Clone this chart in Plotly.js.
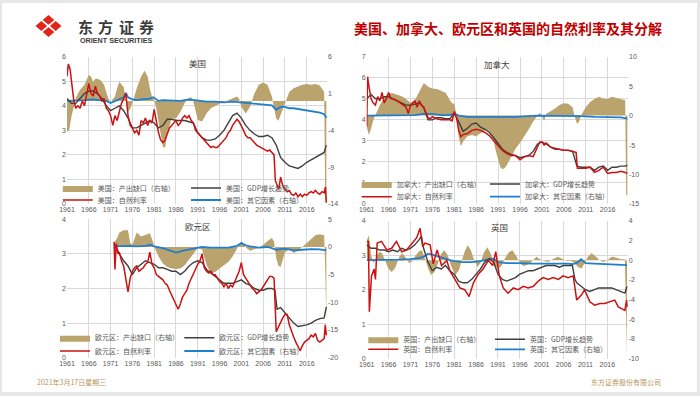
<!DOCTYPE html>
<html><head><meta charset="utf-8">
<script src="https://cdn.plot.ly/plotly-3.0.1.min.js"></script>
<style>html,body{margin:0;padding:0;background:#e7e7e7;}#chart{width:700px;height:396px;}</style>
</head><body><div id="chart"></div>
<script>
// ---------------- DATA ----------------
const xTicks = [1961,1966,1971,1976,1981,1986,1991,1996,2001,2006,2011,2016];

// United States
const usGapYr = [1961,1961.5,1962,1962.5,1963,1963.5,1964,1965,1966,1966.5,1967,1967.5,1968,1968.7,1969.5,1970,1970.5,1971,1972,1972.5,1973,1974,1974.5,1975,1975.5,1976,1977,1978,1978.8,1979.5,1980,1980.5,1981,1981.5,1982,1982.5,1983,1983.5,1984,1985,1986,1987,1988,1989,1989.5,1990,1990.5,1991,1992,1993,1994,1995,1996,1997,1998,1999,2000,2000.5,2001,2002,2003,2004,2005,2006,2007,2008,2008.5,2009,2009.5,2010,2011,2012,2013,2014,2015,2016,2017,2018,2019,2020,2020.25,2020.5];
const usGap = [-4.2,-4.0,-2.2,-0.8,0.3,1.0,1.5,2.2,3.5,3.3,2.6,3.0,3.0,2.8,2.2,1.2,0.3,-0.1,0.6,1.7,2.6,1.9,0.1,-1.5,-1.1,-0.3,1.7,3.3,4.1,3.3,1.7,0.6,0.1,-1.0,-2.8,-4.6,-6.2,-6.4,-4.4,-2.4,-2.4,-1.5,-0.3,0.4,0.5,-0.1,-1.5,-2.6,-2.8,-1.7,-1.0,-0.7,-0.3,-0.1,0.1,0.3,0.6,0.3,-0.8,-1.7,-0.8,1.0,2.2,2.5,2.2,0.6,-0.8,-2.4,-2.7,-1.9,-0.3,1.2,1.7,2.0,2.2,2.3,2.2,2.3,2.1,1.2,-13.8,-13.0];
const usOthYr = [1961,1963,1965,1967,1969,1970,1971,1972,1973,1974,1974.5,1975,1976,1977,1978,1979,1980,1980.8,1981.5,1982,1983,1985,1987,1989,1991,1993,1995,1997,1999,2001,2003,2005,2007,2008,2009,2010,2011,2012,2013,2014,2015,2016,2017,2018,2019,2020,2020.5];
const usOth = [0.0,0.0,0.1,0.2,0.1,0.0,-0.3,0.0,0.3,0.5,1.1,0.5,0.2,0.1,0.2,0.3,0.3,0.5,0.2,0.0,0.1,0.1,0.0,0.2,0.0,-0.1,-0.1,-0.2,-0.1,-0.2,-0.3,-0.4,-0.5,-0.6,-1.2,-0.8,-0.8,-1.0,-1.0,-1.1,-1.2,-1.3,-1.4,-1.5,-1.6,-1.8,-2.3];
const usGdpYr = [1961,1962,1963,1964,1965,1966,1967,1968,1969,1970,1971,1972,1973,1974,1975,1976,1977,1978,1979,1980,1981,1982,1983,1984,1985,1986,1987,1988,1989,1990,1991,1992,1993,1994,1995,1996,1997,1998,1999,2000,2001,2002,2003,2004,2005,2006,2007,2008,2009,2010,2011,2012,2013,2014,2015,2016,2017,2018,2019,2020,2020.5];
const usGdp = [4.3,4.1,4.1,4.3,4.5,4.6,4.6,4.5,4.3,4.0,3.8,3.9,4.0,3.8,3.5,3.1,3.1,3.2,3.3,3.4,3.3,3.1,3.2,3.45,3.45,3.4,3.4,3.4,3.35,3.3,2.9,2.7,2.6,2.6,2.65,2.8,3.0,3.3,3.6,3.7,3.5,3.2,3.0,2.85,2.75,2.75,2.8,2.7,2.4,1.9,1.7,1.55,1.5,1.45,1.55,1.7,1.8,1.9,2.0,2.1,2.4];
const usRateYr = [1961,1961.3,1961.7,1962,1962.5,1963,1963.5,1964,1964.5,1965,1965.5,1966,1966.5,1967,1967.5,1968,1968.5,1969,1969.5,1970,1970.5,1971,1971.5,1972,1972.5,1973,1973.5,1974,1974.5,1975,1975.5,1976,1976.5,1977,1977.5,1978,1978.5,1979,1979.5,1980,1980.5,1981,1981.5,1982,1982.5,1983,1983.5,1984,1984.5,1985,1985.5,1986,1986.5,1987,1987.5,1988,1988.5,1989,1989.5,1990,1990.5,1991,1991.5,1992,1992.5,1993,1993.5,1994,1994.5,1995,1995.5,1996,1996.5,1997,1997.5,1998,1998.5,1999,1999.5,2000,2000.5,2001,2001.5,2002,2002.5,2003,2003.5,2004,2004.5,2005,2005.5,2006,2006.5,2007,2007.5,2008,2008.5,2008.8,2009.2,2009.6,2010,2010.5,2011,2011.5,2012,2012.5,2013,2013.5,2014,2014.5,2015,2015.5,2016,2016.5,2017,2017.5,2018,2018.5,2019,2019.5,2020,2020.3,2020.5];
const usRate = [5.2,5.7,5.5,5.0,4.3,3.9,4.0,3.9,4.2,4.0,4.4,4.9,4.5,4.4,4.8,4.5,4.4,4.2,4.3,3.9,3.8,3.6,3.2,3.6,3.4,3.8,4.1,4.3,4.5,3.6,3.2,3.1,2.9,3.0,2.8,3.4,3.3,3.5,3.2,3.4,3.3,3.85,3.3,2.9,2.6,2.5,2.6,2.9,3.1,3.2,3.3,3.4,3.2,3.3,3.5,3.6,3.5,3.6,3.4,3.3,3.0,2.9,2.8,2.7,2.6,2.5,2.4,2.3,2.35,2.3,2.3,2.4,2.5,2.6,2.7,2.9,3.0,3.2,3.35,3.45,3.35,3.2,3.0,2.8,2.7,2.7,2.6,2.5,2.4,2.35,2.3,2.25,2.2,2.15,2.2,2.1,2.0,0.95,0.8,0.6,1.1,0.75,0.6,0.5,0.55,0.4,0.35,0.45,0.3,0.4,0.3,0.4,0.35,0.45,0.5,0.45,0.55,0.45,0.4,0.5,0.45,0.7,0.05];

// Canada
const caGapYr = [1961,1961.5,1962,1962.5,1963,1964,1965,1966,1967,1968,1969,1970,1971,1972,1973,1973.5,1974,1974.5,1975,1976,1977,1978,1979,1980,1980.5,1981,1981.5,1982,1982.5,1983,1984,1985,1986,1987,1988,1989,1990,1990.5,1991,1991.5,1992,1992.5,1993,1994,1995,1996,1997,1998,1999,2000,2000.5,2001,2001.5,2002,2003,2004,2005,2006,2007,2008,2008.5,2009,2009.5,2010,2011,2012,2013,2014,2015,2016,2017,2018,2019,2020,2020.25,2020.5];
const caGap = [-1.9,-3.3,-2.2,-0.8,0.1,1.8,3.1,3.8,3.8,3.5,3.3,2.8,2.2,2.6,4.1,5.0,5.5,5.3,4.9,4.6,4.5,4.2,3.9,2.6,2.1,2.0,0.1,-3.6,-5.2,-4.4,-3.5,-3.3,-3.5,-3.0,-2.5,-2.7,-4.4,-6.1,-7.5,-8.7,-9.1,-8.9,-8.4,-7.0,-5.6,-4.6,-3.5,-2.3,-1.0,0.1,0.5,-0.1,-0.9,0.3,0.7,1.2,1.8,2.1,2.0,1.4,-0.2,-1.4,-1.0,0.1,1.4,2.3,2.8,3.2,2.9,2.8,3.2,3.0,2.9,2.6,-13.5,-13.5];
const caOthYr = [1961,1965,1970,1972,1974,1976,1978,1980,1981,1982,1984,1986,1990,1995,2000,2005,2008,2010,2013,2016,2019,2020.5];
const caOth = [0.0,0.05,0.0,0.1,0.3,0.3,0.1,0.1,0.35,0.0,-0.2,-0.2,-0.3,-0.2,0.0,0.0,0.0,-0.1,-0.2,-0.3,-0.3,-0.5];
const caGdpYr = [1961,1962,1963,1964,1965,1966,1967,1968,1969,1970,1971,1972,1973,1974,1975,1976,1977,1978,1979,1980,1981,1982,1983,1984,1985,1986,1987,1988,1989,1990,1991,1992,1993,1994,1995,1996,1997,1998,1999,2000,2001,2002,2003,2004,2005,2006,2007,2008,2009,2010,2011,2012,2013,2014,2015,2016,2017,2018,2019,2020,2020.5];
const caGdp = [5.0,5.2,5.0,5.0,5.1,5.1,5.0,4.9,4.8,4.7,4.7,4.75,4.8,4.6,4.0,4.0,4.1,4.1,4.05,4.05,4.3,3.9,3.45,3.6,3.8,3.85,3.65,3.55,3.4,3.15,2.9,2.6,2.45,2.35,2.3,2.2,2.25,2.3,2.5,2.85,2.95,2.85,2.7,2.65,2.6,2.55,2.55,2.5,1.8,1.75,1.75,1.75,1.6,1.75,1.8,1.6,1.75,1.75,1.8,1.8,1.85];
const caRateYr = [1961,1961.2,1961.5,1962,1962.5,1963,1963.5,1964,1964.5,1965,1965.5,1966,1966.5,1967,1968,1969,1970,1970.5,1971,1972,1972.5,1973,1973.5,1974,1975,1975.5,1976,1977,1978,1979,1980,1980.5,1981,1981.5,1982,1982.5,1983,1984,1985,1986,1987,1988,1989,1990,1991,1992,1993,1994,1995,1996,1997,1998,1999,2000,2000.5,2001,2001.5,2002,2003,2004,2005,2006,2007,2008,2008.8,2009.1,2010,2011,2012,2013,2014,2015,2016,2017,2018,2019,2020,2020.5];
const caRate = [3.7,6.05,5.6,5.0,4.8,4.7,5.1,4.9,5.3,4.8,5.0,5.3,5.0,5.0,4.9,4.75,4.6,4.3,4.7,4.9,4.6,4.9,4.7,4.6,4.1,4.05,4.15,4.05,4.0,4.0,4.0,3.95,4.4,4.1,3.5,3.2,3.3,3.35,3.5,3.55,3.5,3.4,3.25,3.0,2.75,2.55,2.4,2.3,2.3,2.1,2.25,2.3,2.25,2.75,2.95,2.95,2.8,2.9,2.7,2.6,2.6,2.55,2.55,2.5,2.45,1.7,1.7,1.7,1.75,1.5,1.6,1.75,1.45,1.5,1.5,1.55,1.5,1.45];

// Euro area
const euGapYr = [1971.8,1972.5,1973,1974,1975,1975.5,1976,1977,1978,1979,1980,1980.7,1981.3,1982,1983,1984,1985,1986,1987,1988,1989,1990,1991,1992,1993,1994,1995,1996,1997,1998,1999,2000,2001,2002,2003,2004,2005,2006,2007,2008,2008.5,2009,2009.5,2010,2010.5,2011,2012,2013,2014,2015,2016,2017,2018,2019,2020,2020.25,2020.5];
const euGap = [0.7,1.6,2.6,3.0,3.0,0.7,0.4,2.6,1.9,2.2,2.5,1.0,-0.5,-1.7,-3.0,-3.6,-3.9,-4.0,-3.9,-3.3,-2.3,-1.4,-0.2,-0.5,-3.2,-4.8,-4.5,-3.9,-3.3,-2.7,-1.7,-0.4,1.1,-0.1,-0.7,-0.4,-0.2,0.4,1.1,1.6,1.0,-2.0,-3.4,-3.6,-2.3,-1.0,-0.4,-1.1,-0.7,0.0,0.8,1.5,2.1,2.3,2.1,-4.3,-13.5];
const euOthYr = [1971.8,1975,1977,1979,1980,1981,1983,1985,1986,1988,1990,1992,1994,1996,1998,2000,2001,2002,2003,2005,2007,2008,2009,2011,2013,2015,2017,2019,2020.5];
const euOth = [0.1,0.2,0.1,0.2,0.4,0.1,-0.2,-0.7,-1.0,-0.6,-0.3,0.0,-0.1,-0.1,-0.1,0.2,0.7,0.3,0.1,-0.1,0.0,-0.2,-0.5,-0.3,-0.6,-0.5,-0.4,-0.45,-0.6];
const euGdpYr = [1971.8,1972.5,1973,1974,1975,1976,1977,1978,1979,1980,1981,1982,1983,1984,1985,1986,1987,1988,1989,1990,1991,1992,1993,1994,1995,1996,1997,1998,1999,2000,2001,2002,2003,2004,2005,2006,2007,2008,2008.7,2009.2,2010,2011,2012,2013,2014,2015,2016,2017,2018,2019,2020,2020.5];
const euGdp = [3.3,3.1,3.0,2.8,2.65,2.4,2.6,2.7,2.8,2.75,2.7,2.6,2.6,2.55,2.5,2.5,2.4,2.5,2.65,2.75,2.8,2.75,2.55,2.45,2.35,2.25,2.15,2.15,2.15,2.2,2.25,2.15,2.1,2.0,1.95,1.95,2.0,2.0,1.95,1.4,1.45,1.3,1.15,1.0,0.9,0.92,0.95,1.0,1.08,1.13,1.15,1.47];
const euRateYr = [1971.8,1972,1972.3,1972.7,1973,1973.5,1974,1974.5,1975,1975.5,1976,1976.5,1977,1977.5,1978,1978.5,1979,1979.5,1980,1980.5,1981,1981.5,1982,1982.5,1983,1983.5,1984,1984.5,1985,1985.5,1986,1986.5,1987,1987.5,1988,1988.5,1989,1989.5,1990,1990.5,1991,1991.5,1992,1992.5,1993,1993.5,1994,1994.5,1995,1995.5,1996,1996.5,1997,1997.5,1998,1998.5,1999,1999.5,2000,2000.5,2001,2001.5,2002,2002.5,2003,2003.5,2004,2004.5,2005,2005.5,2006,2006.5,2007,2007.5,2008,2008.5,2009,2009.5,2010,2010.5,2011,2011.5,2012,2012.5,2013,2013.5,2014,2014.5,2015,2015.5,2016,2016.5,2017,2017.5,2018,2018.5,2019,2019.5,2020,2020.25,2020.5];
const euRate = [3.35,2.55,3.3,3.0,3.05,2.8,2.65,2.3,1.9,2.3,2.5,2.6,2.65,2.5,2.55,2.6,2.7,2.75,3.05,2.7,2.6,2.4,2.35,2.3,2.25,2.15,2.1,1.95,1.8,1.65,1.5,1.4,1.55,1.75,1.85,1.95,2.15,2.3,2.4,2.55,2.7,2.8,3.0,2.6,2.5,2.45,2.5,2.4,2.4,2.3,2.2,2.15,2.05,2.15,2.0,2.1,2.05,2.2,2.35,2.5,2.75,2.4,2.3,2.2,2.1,2.0,1.95,1.85,1.9,1.95,2.05,2.15,2.25,2.35,2.35,2.3,0.75,0.9,1.05,1.15,1.25,1.25,0.95,0.75,0.6,0.45,0.3,0.2,0.35,0.45,0.5,0.55,0.65,0.6,0.7,0.5,0.45,0.5,0.55,0.95,0.65];

// United Kingdom
const ukGapYr = [1961,1961.5,1962,1962.5,1963,1963.5,1964,1964.5,1965,1965.5,1966,1966.7,1967.5,1968,1968.5,1969.2,1970,1970.7,1971.5,1972.2,1973,1973.6,1974.3,1975,1975.7,1976.5,1977.3,1978,1978.7,1979.4,1980.3,1981.2,1982,1982.7,1983.4,1984.1,1984.8,1985.5,1986.3,1987,1987.8,1988.6,1989.4,1990.3,1991,1991.8,1992.6,1993.5,1994.3,1995.2,1996,1996.8,1997.6,1998.4,1999.2,1999.8,2000.6,2001.5,2002.5,2003.5,2004.7,2005.7,2006.7,2007.7,2008.5,2009.3,2010.1,2010.8,2011.6,2012.4,2013.3,2014.2,2015.1,2016,2016.8,2017.3,2018.2,2019.1,2020,2020.25,2020.5];
const ukGap = [2.0,2.5,0.5,-0.3,0.0,0.6,0.85,0.7,0.2,-0.4,-0.9,-1.2,-0.8,-0.2,0.4,0.7,0.2,-0.3,-0.1,0.5,0.9,1.0,0.2,-0.8,-1.5,-1.2,-0.3,0.6,1.0,0.6,-0.6,-1.5,-1.1,-0.2,0.9,1.5,1.0,0.1,-0.7,-0.3,0.8,1.3,0.6,-0.6,-0.9,-0.6,0.2,0.8,1.0,0.4,-0.3,-0.6,-0.5,-0.3,0.1,0.35,0.1,-0.1,-0.2,0.1,0.35,0.1,-0.1,-0.1,-0.3,-0.7,-0.85,-0.3,0.4,0.7,0.4,0.0,-0.2,0.0,0.3,0.35,0.2,0.1,0.1,-5.5,-9.8];
const ukOthYr = [1961,1963,1965,1967,1969,1971,1973,1974,1975,1976,1977,1978,1979,1980,1981,1983,1985,1987,1989,1990,1991,1993,1995,1997,1999,2001,2003,2005,2007,2008,2009,2010,2010.5,2011,2013,2015,2017,2019,2020.5];
const ukOth = [0.0,0.0,0.0,0.05,0.05,0.1,0.2,0.35,0.65,0.55,0.4,0.3,0.15,0.0,-0.1,-0.2,-0.2,-0.1,0.1,0.15,-0.2,-0.3,-0.3,-0.35,-0.35,-0.35,-0.35,-0.3,-0.35,-0.4,-0.3,0.1,-0.1,-0.3,-0.35,-0.4,-0.4,-0.45,-0.5];
const ukGdpYr = [1961,1962,1963,1964,1965,1966,1967,1968,1969,1970,1971,1972,1973,1973.5,1974,1975,1976,1977,1978,1979,1980,1981,1982,1983,1984,1985,1986,1987,1988,1989,1990,1991,1992,1993,1994,1995,1996,1997,1998,1999,2000,2001,2002,2003,2004,2005,2006,2007,2008,2008.6,2009,2010,2011,2012,2013,2014,2015,2016,2017,2018,2019,2020,2020.5];
const ukGdp = [3.3,3.2,3.2,3.15,3.15,3.1,3.15,3.1,3.2,3.15,3.2,3.3,3.45,3.55,3.2,2.8,2.55,2.65,2.6,2.7,2.55,2.45,2.25,2.2,2.2,2.3,2.45,2.6,2.8,2.9,2.8,2.45,2.3,2.25,2.3,2.35,2.45,2.5,2.55,2.55,2.6,2.65,2.7,2.7,2.7,2.65,2.7,2.7,2.7,2.3,2.2,2.1,2.0,1.95,2.0,2.05,2.05,2.05,2.05,2.0,1.95,1.9,2.1];
const ukRateYr = [1961,1961.4,1961.6,1962.1,1962.7,1963.0,1963.4,1964.4,1965.6,1966.7,1967.8,1969.0,1970.1,1971.3,1972.4,1973.2,1973.8,1974.3,1975.5,1976.2,1977.1,1978.1,1979.3,1980.0,1981.2,1982.3,1983.4,1984.4,1985.4,1986.5,1987.6,1988.8,1989.8,1990.5,1991.3,1992.2,1993.3,1994.5,1995.6,1996.8,1997.9,1999.1,2000.2,2001.3,2002.5,2003.6,2004.8,2005.9,2007.0,2008.2,2009.0,2010.1,2010.8,2012.0,2013.1,2014.3,2015.4,2016.6,2017.7,2018.5,2019.4,2020.0,2020.4,2020.6];
const ukRate = [3.4,3.4,1.36,2.4,2.6,2.3,3.35,3.4,3.15,3.2,3.4,3.1,3.15,3.35,3.5,3.78,3.25,3.35,3.3,2.75,3.15,2.7,2.85,2.55,2.3,2.05,2.0,1.8,2.2,2.45,2.6,2.85,2.7,3.1,2.4,2.05,1.9,2.05,2.0,2.1,2.05,2.1,2.25,2.35,2.3,2.35,2.3,2.4,2.35,2.4,1.7,1.85,2.0,1.65,1.55,1.6,1.6,1.65,1.7,1.5,1.45,1.4,1.7,1.5];

// ---------------- CHART ----------------
const W = 700, H = 396;
const px = x => x / W, py = y => 1 - y / H;
const GOLD = '#BBA36D', RED = '#CC1111', BLACK = '#3F3F3F', BLUE = '#1E7FD0';
const TICKF = {family: 'Liberation Sans, Arial, sans-serif', size: 7, color: '#595959'};
const CJK = 'Noto Sans CJK SC, sans-serif';

const panels = [
  {c:'美国', gx:usGapYr, g:usGap, ox:usOthYr, o:usOth, dx:usGdpYr, d:usGdp, rx:usRateYr, r:usRate,
   box:[67,327,56.7,204], L:[0,6], Lt:[0,1,2,3,4,5,6], R:[-14,6], Rt:[-14,-9,-4,1,6],
   leg:[97.8,226,188,200], title:[197,63]},
  {c:'加拿大', gx:caGapYr, g:caGap, ox:caOthYr, o:caOth, dx:caGdpYr, d:caGdp, rx:caRateYr, r:caRate,
   box:[366.7,628,56.7,204], L:[0,7], Lt:[0,1,2,3,4,5,6,7], R:[-15,10], Rt:[-15,-10,-5,0,5,10],
   leg:[396.7,525,184,196.7], title:[497,64]},
  {c:'欧元区', gx:euGapYr, g:euGap, ox:euOthYr, o:euOth, dx:euGdpYr, d:euGdp, rx:euRateYr, r:euRate,
   box:[67,327,219.3,357.7], L:[0,4], Lt:[0,1,2,3,4], R:[-20,5], Rt:[-20,-15,-10,-5,0,5],
   leg:[95,219.3,337.7,351], title:[198,226]},
  {c:'英国', gx:ukGapYr, g:ukGap, ox:ukOthYr, o:ukOth, dx:ukGdpYr, d:ukGdp, rx:ukRateYr, r:ukRate,
   box:[366.7,627.7,220.7,358.7], L:[0,4], Lt:[0,1,2,3,4], R:[-10,4], Rt:[-10,-8,-6,-4,-2,0,2,4],
   leg:[403.3,530,339.3,349.3], title:[499,227]}
];

const traces = [];
const layout = {
  width: W, height: H,
  margin: {l:0, r:0, t:0, b:0},
  paper_bgcolor: '#E7E7E7',
  plot_bgcolor: 'rgba(0,0,0,0)',
  hovermode: false,
  showlegend: true,
  shapes: [{type:'rect', xref:'paper', yref:'paper', x0:px(2), x1:px(697), y0:py(392), y1:py(3),
            fillcolor:'#FFFFFF', line:{width:0}, layer:'below'}],
  annotations: []
};

panels.forEach((p, i) => {
  const xid = i === 0 ? 'x' : 'x' + (i + 1);
  const yMainN = 2 * i + 1, yOvN = 2 * i + 2;
  const yMain = yMainN === 1 ? 'y' : 'y' + yMainN;
  const yOv = 'y' + yOvN;
  const legA = i === 0 ? 'legend' : 'legend' + (2 * i + 1);
  const legB = 'legend' + (2 * i + 2);
  const [x0, x1, yt, yb] = p.box;

  traces.push({type:'scatter', mode:'lines', x:p.gx, y:p.g, xaxis:xid, yaxis:yMain,
    fill:'tozeroy', fillcolor:GOLD, line:{width:0, color:GOLD},
    name:p.c + '：产出缺口（右轴）', legend:legA, legendrank:1});
  traces.push({type:'scatter', mode:'lines', x:p.ox, y:p.o, xaxis:xid, yaxis:yMain,
    line:{width:1.8, color:BLUE},
    name:p.c + '：其它因素（右轴）', legend:legB, legendrank:2});
  traces.push({type:'scatter', mode:'lines', x:p.dx, y:p.d, xaxis:xid, yaxis:yOv,
    line:{width:1.4, color:BLACK},
    name:p.c + '：GDP增长趋势', legend:legA, legendrank:2});
  traces.push({type:'scatter', mode:'lines', x:p.rx, y:p.r, xaxis:xid, yaxis:yOv,
    line:{width:1.5, color:RED},
    name:p.c + '：自然利率', legend:legB, legendrank:1});

  const xKey = i === 0 ? 'xaxis' : 'xaxis' + (i + 1);
  const yMainKey = yMainN === 1 ? 'yaxis' : 'yaxis' + yMainN;
  const yOvKey = 'yaxis' + yOvN;
  layout[xKey] = {
    domain:[px(x0), px(x1)], anchor:yMain, range:[1961, 2020.65],
    tickmode:'array', tickvals:xTicks, ticktext:xTicks.map(String),
    showgrid:true, gridcolor:'#D9D9D9', gridwidth:1, zeroline:false, showline:false,
    ticks:'', tickfont:TICKF
  };
  layout[yMainKey] = {
    domain:[py(yb), py(yt)], anchor:xid, side:'right', range:p.R,
    tickmode:'array', tickvals:p.Rt, ticktext:p.Rt.map(v => String(v)),
    showgrid:false, zeroline:false, showline:false, ticks:'', tickfont:TICKF
  };
  layout[yOvKey] = {
    overlaying:yMain, anchor:xid, side:'left', range:p.L,
    tickmode:'array', tickvals:p.Lt, ticktext:p.Lt.map(String),
    showgrid:true, gridcolor:'#D9D9D9', gridwidth:1, zeroline:false, showline:false,
    ticks:'', tickfont:TICKF
  };
  const entry = p.leg[1] - p.leg[0] - 45;
  [[legA, p.leg[2]], [legB, p.leg[3]]].forEach(([lg, yy]) => {
    layout[lg] = {
      orientation:'h', x:px(p.leg[0] - 40), y:py(yy), xanchor:'left', yanchor:'middle',
      bgcolor:'rgba(0,0,0,0)', borderwidth:0, entrywidth:entry, entrywidthmode:'pixels',
      itemwidth:30, traceorder:'normal', tracegroupgap:0,
      font:{family:CJK, size:7, color:'#595959'}
    };
  });
  layout.annotations.push({xref:'paper', yref:'paper', x:px(p.title[0]), y:py(p.title[1]),
    text:p.c, showarrow:false, xanchor:'center', yanchor:'middle',
    font:{family:CJK, size:8.5, color:'#404040'}});
});

// header & footer
layout.annotations.push({xref:'paper', yref:'paper', x:px(352), y:py(28), xanchor:'left', yanchor:'middle',
  text:'<b>美国、加拿大、欧元区和英国的自然利率及其分解</b>', showarrow:false,
  font:{family:CJK, size:14, color:'#C00000'}});
['东','方','证','券'].forEach((ch, k) => {
  layout.annotations.push({xref:'paper', yref:'paper', x:px(85.3 + k * 20.5), y:py(27), xanchor:'center', yanchor:'middle',
    text:'<b>' + ch + '</b>', showarrow:false, font:{family:CJK, size:15, color:'#3C3C3C'}});
});
layout.annotations.push({xref:'paper', yref:'paper', x:px(116), y:py(40.5), xanchor:'center', yanchor:'middle',
  text:'<b>ORIENT SECURITIES</b>', showarrow:false, font:{family:'Liberation Sans, Arial', size:7.2, color:'#3C3C3C'}});
layout.annotations.push({xref:'paper', yref:'paper', x:px(35), y:py(382), xanchor:'left', yanchor:'middle',
  text:'2021年3月17日星期三', showarrow:false, font:{family:CJK, size:7, color:'#B8975A'}});
layout.annotations.push({xref:'paper', yref:'paper', x:px(663), y:py(382), xanchor:'right', yanchor:'middle',
  text:'东方证券股份有限公司', showarrow:false, font:{family:CJK, size:7, color:'#B8975A'}});

// logo: four red lobes
const lc = [48.5, 26], s = 5.8, sy = s * 11 / 13, d = 7.2, dy = d * 11 / 13;
[[0, -dy], [d, 0], [0, dy], [-d, 0]].forEach(([ox, oy]) => {
  const cx = lc[0] + ox, cy = lc[1] + oy;
  const pts = [[cx, cy - sy], [cx + s, cy], [cx, cy + sy], [cx - s, cy]];
  const path = 'M' + pts.map(q => px(q[0]) + ',' + py(q[1])).join('L') + 'Z';
  layout.shapes.push({type:'path', xref:'paper', yref:'paper', path:path,
    fillcolor:'#E1251B', line:{width:0}});
});

Plotly.newPlot('chart', traces, layout, {displayModeBar:false, staticPlot:true});
</script>
</body></html>
